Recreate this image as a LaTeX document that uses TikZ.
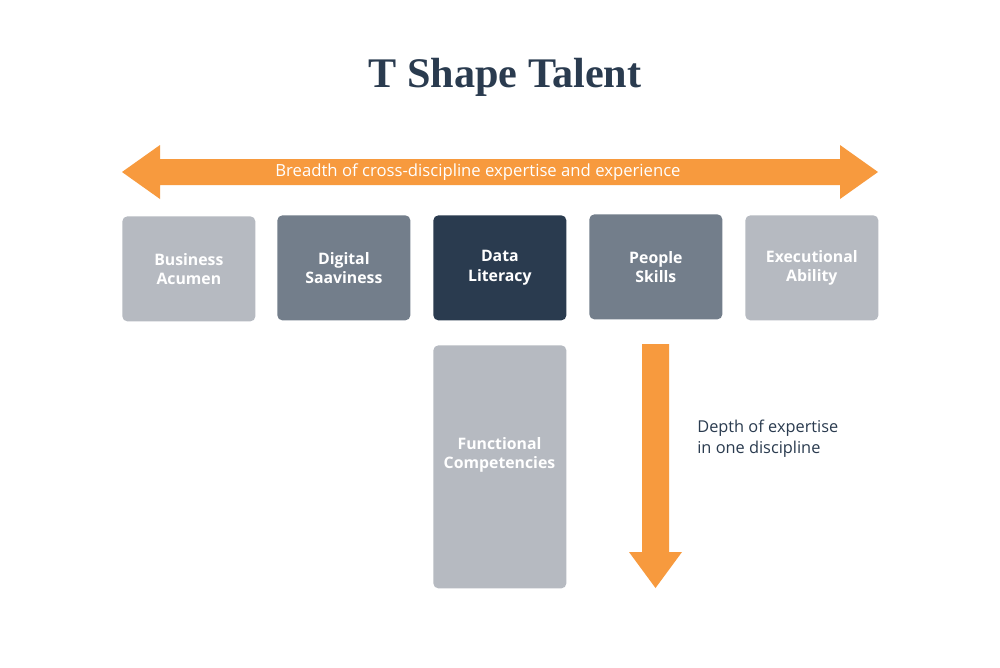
\documentclass[tikz,border=0pt]{standalone}
\usepackage{fontspec}
\setmainfont{Open Sans}
\newfontfamily\titlefont{Liberation Serif}
\definecolor{orng}{HTML}{F79A3E}
\definecolor{lightg}{HTML}{B6BAC1}
\definecolor{midg}{HTML}{737E8B}
\definecolor{darkb}{HTML}{2A3B4F}
\begin{document}
\begin{tikzpicture}[x=0.2mm,y=-0.2mm,
  box/.style={rounded corners=1mm,minimum width=26.6mm,minimum height=21mm,inner sep=0,
    text=white,font=\bfseries\fontsize{9}{11}\selectfont,align=center,anchor=north west}]
\fill[white] (0,0) rectangle (1000,667);
\node[font=\titlefont\bfseries\fontsize{24}{28}\selectfont,text=darkb] (title) at (505,77) {T Shape Talent};
\fill[orng] (122,172) -- (160,145) -- (160,159) -- (840,159) -- (840,145) -- (878,172)
  -- (840,199) -- (840,185) -- (160,185) -- (160,199) -- cycle;
\node[text=white,font=\fontsize{9.5}{11}\selectfont] (breadth) at (478,172) {Breadth of cross-discipline expertise and experience};
\node[box,fill=lightg] (b1) at (122,216) {Business\\Acumen};
\node[box,fill=midg] (b2) at (277,215) {Digital\\Saaviness};
\node[box,fill=darkb] (b3) at (433,215) {Data\\Literacy};
\node[box,fill=midg] (b4) at (589,214) {People\\Skills};
\node[box,fill=lightg] (b5) at (745,215) {Executional\\Ability};
\node[box,fill=lightg,minimum height=48.6mm] (b6) at (433,345) {};
\node[text=white,font=\bfseries\fontsize{9}{11}\selectfont,align=center] (b6t) at (499.5,455) {Functional\\Competencies};
\fill[orng] (642,344) -- (669,344) -- (669,552) -- (682,552) -- (655.5,588) -- (629,552) -- (642,552) -- cycle;
\node[anchor=north west,align=left,text=darkb,font=\fontsize{9.3}{12}\selectfont,inner sep=0] (depth) at (697,420) {Depth of expertise\\in one discipline};
\end{tikzpicture}
\end{document}
